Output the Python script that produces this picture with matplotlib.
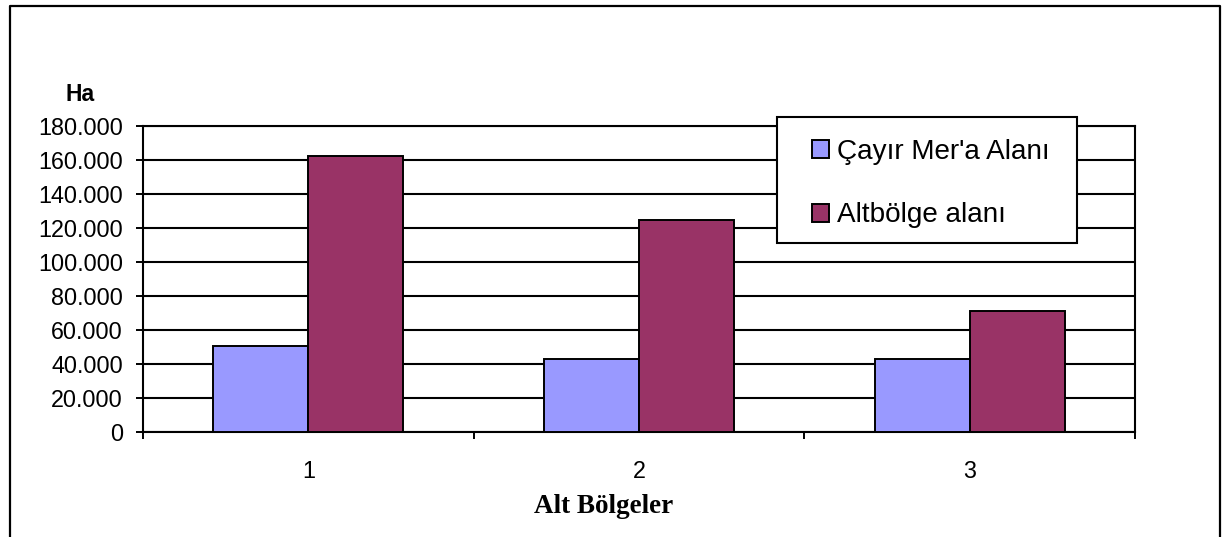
import matplotlib.pyplot as plt
from matplotlib.lines import Line2D
from matplotlib.patches import Rectangle
from matplotlib.ticker import FuncFormatter
import numpy as np

# data (hectares)
regions = [1, 2, 3]
cayir_mera = [50800, 42700, 43100]
altbolge = [162500, 124900, 71400]
series_names = ["Çayır Mer'a Alanı", "Altbölge alanı"]
yticks = list(range(0, 180001, 20000))

plt.rcParams['font.family'] = ['Liberation Sans', 'DejaVu Sans']

fig = plt.figure(figsize=(12.25, 5.37), dpi=100)
ax = fig.add_axes([143 / 1225, 1 - 432 / 537, (1135 - 143) / 1225, (432 - 126) / 537])

x = np.arange(len(regions)) + 1
w = 0.287
b1 = ax.bar(x - w / 2, cayir_mera, w, color='#9999FF', edgecolor='black', linewidth=1.4,
            label=series_names[0], zorder=3)
b2 = ax.bar(x + w / 2, altbolge, w, color='#993366', edgecolor='black', linewidth=1.4,
            label=series_names[1], zorder=3)

ax.set_xlim(0.5, 3.5)
ax.set_ylim(0, 180000)
ax.set_yticks(yticks)
ax.yaxis.set_major_formatter(FuncFormatter(lambda v, p: '0' if v == 0 else f'{int(v):,}'.replace(',', '.')))
ax.tick_params(axis='y', labelsize=16.8, length=5, width=1.4, pad=9.4, direction='out')
ax.yaxis.grid(True, color='black', linewidth=1.5, zorder=0)

# tick marks at category boundaries, labels at category centres
ax.set_xticks([0.5, 1.5, 2.5, 3.5])
ax.set_xticklabels([])
ax.set_xticks(x, minor=True)
ax.set_xticklabels([str(r) for r in regions], minor=True)
ax.tick_params(axis='x', which='major', length=5, width=1.4, direction='out')
ax.tick_params(axis='x', which='minor', length=0, labelsize=16.8, pad=20)

for s in ax.spines.values():
    s.set_linewidth(1.5)
    s.set_color('black')

fig.text(80 / 1225, 1 - 101 / 537, 'Ha', ha='center', va='baseline', fontsize=16.5, fontweight='bold')
fig.text(604 / 1225, 1 - 513 / 537, 'Alt Bölgeler', ha='center', va='baseline', fontsize=19.5,
         fontweight='bold', family='Liberation Serif')

# legend box drawn separately so its size matches the reference
fig.add_artist(Rectangle((777 / 1225, 1 - 243 / 537), 300 / 1225, 126 / 537,
                         transform=fig.transFigure, facecolor='white', edgecolor='black',
                         linewidth=1.5, zorder=4))
leg = fig.legend(handles=[b1, b2], labels=series_names, loc='center left',
                 bbox_to_anchor=(812 / 1225, 1 - 183.5 / 537), fontsize=20.1, frameon=False,
                 borderpad=0, borderaxespad=0, handlelength=0.62, handleheight=0.62,
                 handletextpad=0.26, labelspacing=1.36)
leg.set_zorder(5)

# outer chart border (bottom edge is cut off in the reference)
fig.add_artist(Line2D([9.5 / 1225, 9.5 / 1225, 1219.5 / 1225, 1219.5 / 1225],
                      [0, 1 - 5.5 / 537, 1 - 5.5 / 537, 0],
                      transform=fig.transFigure, color='black', linewidth=1.6))

fig.savefig('out.png', dpi=100)
